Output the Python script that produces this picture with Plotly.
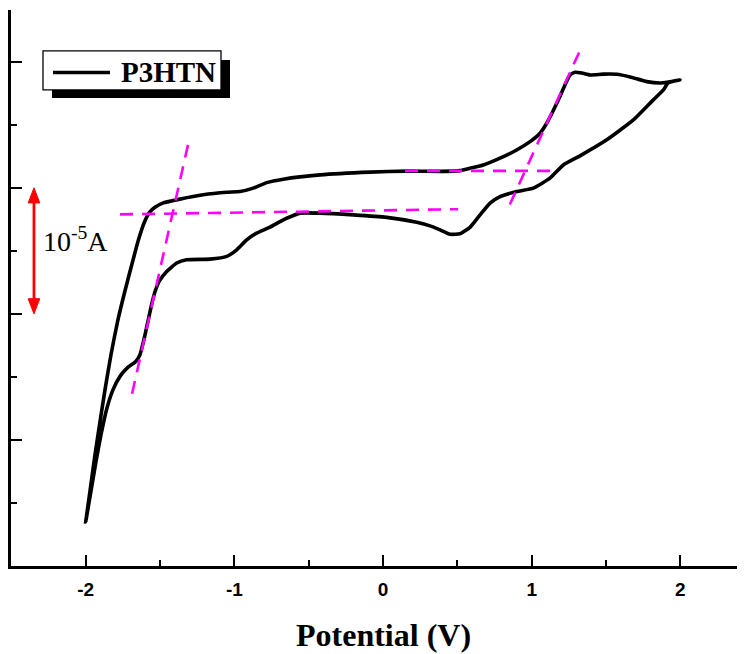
import plotly.graph_objects as go

# Cyclic voltammogram of P3HTN (current in units of 1e-5 A, arbitrary offset)
fwd_potential = [-2.000, -1.971, -1.941, -1.907, -1.870, -1.830, -1.786, -1.739, -1.692, -1.645,
                 -1.604, -1.571, -1.534, -1.478, -1.366, -1.209, -1.051, -0.962, -0.873,
                 -0.782, -0.671, -0.424, -0.087, 0.159, 0.384, 0.518, 0.585, 0.675, 0.787,
                 0.899, 0.989, 1.056, 1.101, 1.169, 1.224, 1.258, 1.292, 1.337, 1.393,
                 1.482, 1.572, 1.662, 1.774, 1.863, 1.919, 1.998]
fwd_current = [0.350, 0.594, 0.852, 1.121, 1.399, 1.676, 1.937, 2.167, 2.381, 2.587,
               2.730, 2.805, 2.845, 2.880, 2.910, 2.944, 2.964, 2.970, 2.997,
               3.041, 3.068, 3.102, 3.124, 3.132, 3.130, 3.136, 3.155, 3.181, 3.235,
               3.300, 3.366, 3.433, 3.512, 3.670, 3.815, 3.895, 3.916, 3.910, 3.895,
               3.901, 3.900, 3.879, 3.842, 3.831, 3.839, 3.855]

rev_potential = [1.998, 1.917, 1.886, 1.818, 1.684, 1.505, 1.325, 1.213, 1.123, 1.011,
                 0.899, 0.787, 0.720, 0.653, 0.585, 0.518, 0.451, 0.384, 0.316, 0.227,
                 0.025, -0.200, -0.424, -0.558, -0.603, -0.671, -0.760, -0.850, -0.917, -0.984,
                 -1.051, -1.164, -1.321, -1.388, -1.455, -1.504, -1.534, -1.557, -1.579, -1.598,
                 -1.615, -1.635, -1.665, -1.715, -1.766, -1.816, -1.860, -1.897, -1.931, -1.964,
                 -2.000]
rev_current = [3.855, 3.831, 3.776, 3.697, 3.538, 3.380, 3.253, 3.181, 3.076, 2.997,
               2.970, 2.930, 2.878, 2.785, 2.686, 2.635, 2.631, 2.666, 2.698, 2.726,
               2.765, 2.785, 2.799, 2.799, 2.780, 2.746, 2.688, 2.640, 2.587, 2.508,
               2.456, 2.434, 2.429, 2.403, 2.336, 2.262, 2.175, 2.072, 1.953, 1.850,
               1.763, 1.676, 1.620, 1.577, 1.510, 1.399, 1.240, 1.042, 0.828, 0.598,
               0.350]

# Tangent (onset) construction lines: (x0, y0, x1, y1)
tangents = [
    (-1.769, 2.789, 0.505, 2.830),
    (-1.312, 3.340, -1.692, 1.347),
    (0.148, 3.134, 1.171, 3.134),
    (1.319, 4.073, 0.841, 2.837),
]

# Scale bar: 1e-5 A
scale_x = -2.348
scale_y0, scale_y1 = 2.0, 3.0

x_range = [-2.5025, 2.435]
y_range = [0.0, 4.41]
x_major = [-2, -1, 0, 1, 2]
x_labels = ["-2", "-1", "0", "1", "2"]
y_major = [1, 2, 3, 4]

fig = go.Figure()
potential = fwd_potential + rev_potential[1:]
current = fwd_current + rev_current[1:]
fig.add_trace(go.Scatter(x=potential, y=current, mode="lines",
                         line=dict(color="black", width=3.6, shape="spline", smoothing=0.45),
                         name="P3HTN", showlegend=False, hoverinfo="skip"))
for (x0, y0, x1, y1) in tangents:
    fig.add_trace(go.Scatter(x=[x0, x1], y=[y0, y1], mode="lines",
                             line=dict(color="#FF00FF", width=2.6, dash="13px,9px"),
                             showlegend=False, hoverinfo="skip"))

shapes = []
# scale bar arrow
hw = 0.039   # half width of arrow head (x units)
hl = 0.12    # head length (y units)
shapes.append(dict(type="line", xref="x", yref="y", x0=scale_x, x1=scale_x,
                   y0=scale_y0 + hl * 0.8, y1=scale_y1 - hl * 0.8,
                   line=dict(color="#FF0000", width=2.8)))
shapes.append(dict(type="path", xref="x", yref="y",
                   path=f"M {scale_x},{scale_y1} L {scale_x - hw},{scale_y1 - hl} L {scale_x + hw},{scale_y1 - hl} Z",
                   fillcolor="#FF0000", line=dict(color="#FF0000", width=1)))
shapes.append(dict(type="path", xref="x", yref="y",
                   path=f"M {scale_x},{scale_y0} L {scale_x - hw},{scale_y0 + hl} L {scale_x + hw},{scale_y0 + hl} Z",
                   fillcolor="#FF0000", line=dict(color="#FF0000", width=1)))

# legend with drop shadow (paper coords)
W, H = 734.0, 556.5
def px(x):
    return (x - 11) / W
def py(y):
    return (566.5 - y) / H

shapes.append(dict(type="rect", xref="paper", yref="paper", x0=px(52), x1=px(230), y0=py(98), y1=py(60),
                   fillcolor="black", line=dict(width=0)))
shapes.append(dict(type="rect", xref="paper", yref="paper", x0=px(43), x1=px(221), y0=py(90), y1=py(51),
                   fillcolor="white", line=dict(color="black", width=1.3)))
shapes.append(dict(type="line", xref="paper", yref="paper", x0=px(53), x1=px(110), y0=py(72.5), y1=py(72.5),
                   line=dict(color="black", width=3.6)))

annotations = [
    dict(text="<b>P3HTN</b>", xref="paper", yref="paper", x=px(119), y=py(72), xanchor="left", yanchor="middle",
         showarrow=False, font=dict(family="Liberation Serif", size=29, color="black")),
    dict(text="10<sup>-5</sup>A", xref="paper", yref="paper", x=px(75), y=py(240), xanchor="center", yanchor="middle",
         showarrow=False, font=dict(family="Liberation Serif", size=28, color="black")),
    dict(text="<b>Potential (V)</b>", xref="x", yref="paper", x=0, y=py(636), xanchor="center", yanchor="middle",
         showarrow=False, font=dict(family="Liberation Serif", size=32, color="black")),
]

# page body has an 8px default margin, so the figure is sized to fit the 745x654 window
fig.update_layout(
    width=737, height=646,
    margin=dict(l=3, r=0, t=2, b=87.5),
    paper_bgcolor="white", plot_bgcolor="white",
    shapes=shapes, annotations=annotations,
    xaxis=dict(range=x_range, showgrid=False, zeroline=False, showline=True, linecolor="black", linewidth=2.6,
               ticks="inside", ticklen=11, tickwidth=2, tickcolor="black",
               tickmode="array", tickvals=x_major, ticktext=x_labels, ticklabelstandoff=4,
               tickfont=dict(family="Liberation Sans", size=19, color="black", weight="bold"),
               minor=dict(dtick=0.5, tick0=0, ticks="inside", ticklen=6, tickwidth=2, tickcolor="black", showgrid=False)),
    yaxis=dict(range=y_range, showgrid=False, zeroline=False, showline=True, linecolor="black", linewidth=2.6,
               ticks="inside", ticklen=11, tickwidth=2, tickcolor="black",
               tickmode="array", tickvals=y_major, showticklabels=False,
               minor=dict(dtick=0.5, tick0=0, ticks="inside", ticklen=6, tickwidth=2, tickcolor="black", showgrid=False)),
)

fig.write_html("out.html")
